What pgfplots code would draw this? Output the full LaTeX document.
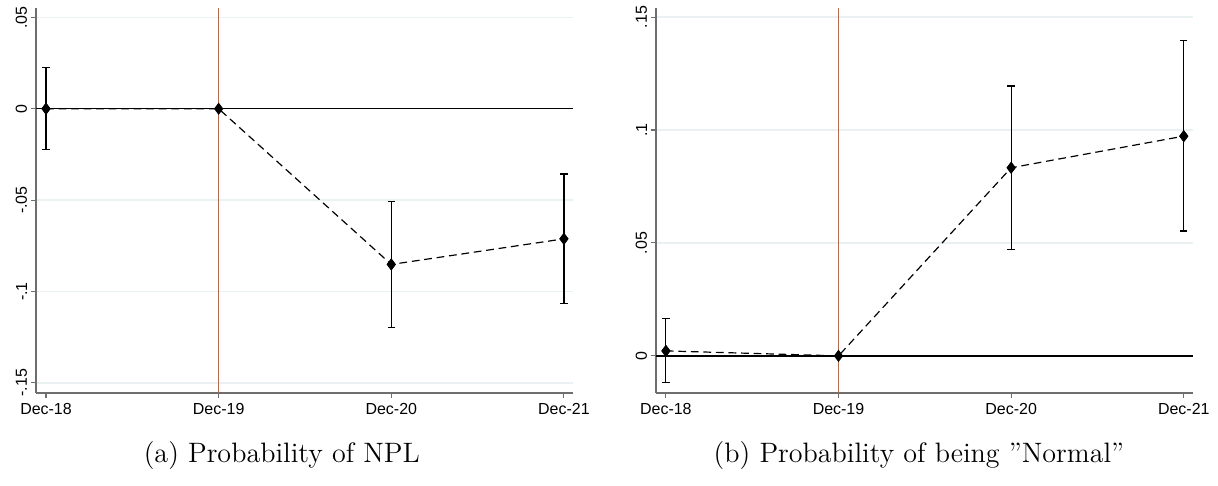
\documentclass[border=0pt]{standalone}
\usepackage{fontspec}
\usepackage{pgfplots}
\pgfplotsset{compat=1.18}
\usepackage{pgfplotstable}
\newfontfamily\arial{Liberation Sans}
\definecolor{vline}{RGB}{182,106,76}
\definecolor{gridc}{HTML}{EAF1F2}
\definecolor{axisc}{HTML}{6E6E6E}

% point estimates and confidence bands
\pgfplotstableread{
x b
0 0
1 0
2 -0.0852
3 -0.0712
}\nplest
\pgfplotstableread{
x b lo hi
0 0 -0.0222 0.0226
2 -0.0852 -0.1198 -0.0508
3 -0.0712 -0.1064 -0.0357
}\nplci
\pgfplotstableread{
x b
0 0.0022
1 0
2 0.0833
3 0.0973
}\normest
\pgfplotstableread{
x b lo hi
0 0.0022 -0.0119 0.0165
2 0.0833 0.0470 0.1195
3 0.0973 0.0553 0.1395
}\normci

\pgfplotsset{
  stata/.style={
    scale only axis, width=248.6pt, height=178.3pt,
    axis x line*=bottom, axis y line*=left,
    axis line style={axisc, line width=0.6pt, -},
    xmin=-0.058, xmax=3.052,
    xtick={0,1,2,3}, xticklabels={Dec-18,Dec-19,Dec-20,Dec-21},
    tick align=outside, major tick length=2.4pt,
    tick style={axisc, line width=0.5pt},
    ymajorgrids, major grid style={gridc, line width=0.6pt},
    tick label style={font=\arial\fontsize{7.4}{8}\selectfont, text=black},
    /pgf/number format/assume math mode=true,
    yticklabel style={rotate=90, anchor=south, inner sep=1.5pt},
    xticklabel style={inner sep=2pt},
    clip=false,
  },
  est/.style={black, dashed, dash pattern=on 3.6pt off 2.2pt, line width=0.55pt,
    mark=diamond*, mark size=2.4pt, mark options={solid, fill=black}},
  ci/.style={black, only marks, mark=diamond*, mark size=2.4pt,
    mark options={fill=black},
    error bars/.cd, y dir=both, y explicit,
    error bar style={black, line width=0.55pt, solid},
    error mark options={rotate=90, mark size=1.7pt, line width=0.55pt, black}},
}

\begin{document}
\begin{tikzpicture}
\path[use as bounding box] (0,0) rectangle (564pt,225pt);

\begin{axis}[stata, at={(16.67pt,43.06pt)}, anchor=south west,
  ymin=-0.1555, ymax=0.0552,
  ytick={-0.15,-0.1,-0.05,0,0.05}, yticklabels={-.15,-.1,-.05,0,.05}]
  \addplot[black, line width=0.7pt] coordinates {(-0.058,0) (3.052,0)};
  \addplot[vline, line width=0.7pt] coordinates {(1,-0.1555) (1,0.0552)};
  \addplot[est] table[x=x, y=b] {\nplest};
  \addplot[ci] table[x=x, y=b,
    y error plus expr=\thisrow{hi}-\thisrow{b},
    y error minus expr=\thisrow{b}-\thisrow{lo}] {\nplci};
\end{axis}

\begin{axis}[stata, at={(303.7pt,43.06pt)}, anchor=south west,
  ymin=-0.0164, ymax=0.1541,
  ytick={0,0.05,0.1,0.15}, yticklabels={0,.05,.1,.15}]
  \addplot[black, line width=0.7pt] coordinates {(-0.058,0) (3.052,0)};
  \addplot[vline, line width=0.7pt] coordinates {(1,-0.0164) (1,0.1541)};
  \addplot[est] table[x=x, y=b] {\normest};
  \addplot[ci] table[x=x, y=b,
    y error plus expr=\thisrow{hi}-\thisrow{b},
    y error minus expr=\thisrow{b}-\thisrow{lo}] {\normci};
\end{axis}

\node[font=\fontsize{13}{15}\selectfont] at (130.5pt,14.2pt) {(a) Probability of NPL};
\node[font=\fontsize{13}{15}\selectfont] at (425.5pt,14.2pt) {(b) Probability of being ''Normal''};
\end{tikzpicture}
\end{document}
